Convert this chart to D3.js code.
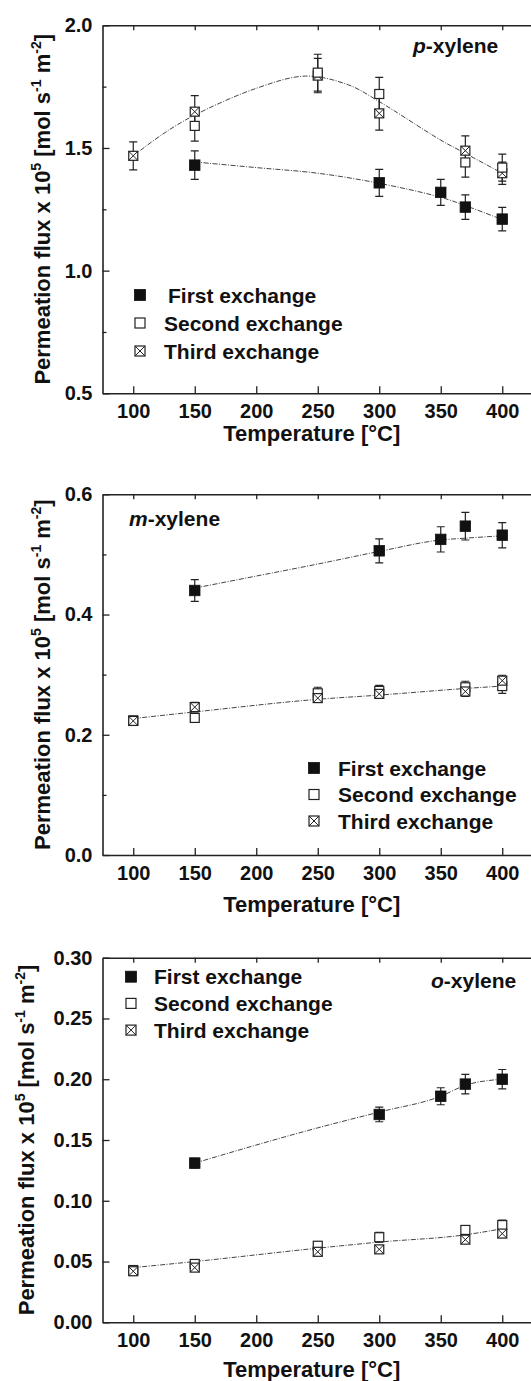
<!DOCTYPE html>
<html>
<head>
<meta charset="utf-8">
<script src="https://cdn.jsdelivr.net/npm/d3@7"></script>
<style>
  body { margin: 0; background: #fff; }
  svg { display: block; }
  text { font-family: "Liberation Sans", Arial, sans-serif; font-weight: bold; fill: #111; }
</style>
</head>
<body>
<div id="chart"></div>
<script>
// x axis (temperature, °C)
const xTicks = [100, 150, 200, 250, 300, 350, 400];
const legendNames = ["First exchange", "Second exchange", "Third exchange"];

// p-xylene  [T, flux, error]
const pFirst  = [[150, 1.430, 0.058], [300, 1.358, 0.055], [350, 1.319, 0.053], [370, 1.259, 0.050], [400, 1.210, 0.048]];
const pSecond = [[150, 1.590, 0.062], [250, 1.807, 0.075], [300, 1.720, 0.068], [370, 1.441, 0.060], [400, 1.420, 0.055]];
const pThird  = [[100, 1.468, 0.057], [150, 1.648, 0.065], [250, 1.795, 0.070], [300, 1.641, 0.068], [370, 1.489, 0.060], [400, 1.397, 0.045]];
const pFitFirst = [[150, 1.443], [200, 1.420], [250, 1.397], [300, 1.356], [350, 1.299], [370, 1.265], [400, 1.208]];
const pFitUpper = [[100, 1.468], [125, 1.560], [150, 1.634], [200, 1.743], [240, 1.793], [275, 1.757], [300, 1.689], [350, 1.532], [370, 1.478], [400, 1.397]];

// m-xylene
const mFirst  = [[150, 0.440, 0.018], [300, 0.506, 0.020], [350, 0.525, 0.021], [370, 0.547, 0.023], [400, 0.532, 0.021]];
const mSecond = [[100, 0.224, 0.005], [150, 0.228, 0.007], [250, 0.269, 0.010], [300, 0.273, 0.009], [370, 0.279, 0.010], [400, 0.281, 0.012]];
const mThird  = [[100, 0.223, 0.006], [150, 0.246, 0.008], [250, 0.261, 0.006], [300, 0.268, 0.006], [370, 0.272, 0.008], [400, 0.290, 0.009]];
const mFitFirst = [[150, 0.444], [200, 0.464], [250, 0.484], [300, 0.505], [350, 0.524], [370, 0.527], [400, 0.531]];
const mFitLower = [[100, 0.227], [150, 0.238], [250, 0.259], [300, 0.266], [370, 0.277], [400, 0.281]];

// o-xylene
const oFirst  = [[150, 0.131, 0.004], [300, 0.171, 0.006], [350, 0.186, 0.007], [370, 0.196, 0.008], [400, 0.200, 0.008]];
const oSecond = [[100, 0.043, 0.002], [150, 0.048, 0.003], [250, 0.063, 0.003], [300, 0.070, 0.004], [370, 0.076, 0.003], [400, 0.080, 0.004]];
const oThird  = [[100, 0.042, 0.002], [150, 0.045, 0.003], [250, 0.058, 0.003], [300, 0.060, 0.003], [370, 0.068, 0.003], [400, 0.073, 0.003]];
const oFitFirst = [[150, 0.131], [250, 0.160], [300, 0.173], [350, 0.186], [370, 0.195], [400, 0.200]];
const oFitLower = [[100, 0.045], [150, 0.050], [250, 0.061], [300, 0.066], [370, 0.072], [400, 0.077]];

const W = 531, H = 1381;
const svg = d3.select("#chart").append("svg").attr("width", W).attr("height", H);

const x = d3.scaleLinear().domain([75, 425]).range([102.5, 533]);

const panels = [
  { name: "p", top: 25.3, bottom: 393.3, domain: [0.5, 2.0], ticks: [0.5, 1.0, 1.5, 2.0], minor: [0.75, 1.25, 1.75], fmt: ".1f",
    first: pFirst, second: pSecond, third: pThird, thirdOnTop: false, fits: [pFitFirst, pFitUpper], curve: d3.curveCatmullRom.alpha(0.5),
    nameX: 413, nameY: 53, legX: 140, legY: 295, legDy: 28, legTx: [168, 164, 164], yTitleX: 50, xTitleY: 441 },
  { name: "m", top: 494.3, bottom: 855, domain: [0, 0.6], ticks: [0, 0.2, 0.4, 0.6], minor: [0.1, 0.3, 0.5], fmt: ".1f",
    first: mFirst, second: mSecond, third: mThird, thirdOnTop: true, fits: [mFitFirst, mFitLower], curve: d3.curveMonotoneX,
    nameX: 129, nameY: 526, legX: 314, legY: 768, legDy: 26.5, legTx: [338, 338, 338], yTitleX: 50, xTitleY: 911.5 },
  { name: "o", top: 957.7, bottom: 1322.3, domain: [0, 0.30], ticks: [0, 0.05, 0.10, 0.15, 0.20, 0.25, 0.30], minor: [], fmt: ".2f",
    first: oFirst, second: oSecond, third: oThird, thirdOnTop: true, fits: [oFitFirst, oFitLower], curve: d3.curveMonotoneX,
    nameX: 431, nameY: 988, legX: 131, legY: 976.7, legDy: 26.7, legTx: [154, 154, 154], yTitleX: 34, xTitleY: 1377 }
];

function marker(g, kind, cx, cy, s) {
  if (kind === 0) {
    g.append("rect").attr("x", cx - s / 2).attr("y", cy - s / 2).attr("width", s).attr("height", s)
      .attr("fill", "#111").attr("stroke", "#111").attr("stroke-width", 0.8);
    return;
  }
  const h = (s - 1) / 2;
  g.append("rect").attr("x", cx - h).attr("y", cy - h).attr("width", 2 * h).attr("height", 2 * h)
    .attr("fill", "#fff").attr("stroke", "#222").attr("stroke-width", 1.2);
  if (kind === 2) {
    g.append("path").attr("d", `M${cx - h},${cy - h}L${cx + h},${cy + h}M${cx - h},${cy + h}L${cx + h},${cy - h}`)
      .attr("stroke", "#222").attr("stroke-width", 1).attr("fill", "none");
  }
}

panels.forEach(p => {
  const y = d3.scaleLinear().domain(p.domain).range([p.bottom, p.top]);
  const g = svg.append("g");

  // axes
  g.append("g").attr("transform", `translate(0,${p.bottom})`)
    .call(d3.axisBottom(x).tickValues(xTicks).tickSizeInner(-7).tickSizeOuter(0).tickPadding(11).tickFormat(d3.format("d")))
    .call(a => a.selectAll("text").attr("font-size", 20).attr("fill", "#111"));
  g.append("g").attr("transform", `translate(0,${p.top})`)
    .call(d3.axisTop(x).tickValues(xTicks).tickSizeInner(-5).tickSizeOuter(0).tickFormat(""));
  g.append("g").attr("transform", `translate(${x.range()[0]},0)`)
    .call(d3.axisLeft(y).tickValues(p.ticks).tickSizeInner(-7).tickSizeOuter(0).tickPadding(10).tickFormat(d3.format(p.fmt)))
    .call(a => a.selectAll("text").attr("font-size", 20).attr("fill", "#111"));
  if (p.minor.length) {
    g.append("g").attr("transform", `translate(${x.range()[0]},0)`)
      .call(d3.axisLeft(y).tickValues(p.minor).tickSizeInner(-4).tickSizeOuter(0).tickFormat(""))
      .call(a => a.select(".domain").remove());
  }
  g.selectAll(".domain").attr("stroke", "#222").attr("stroke-width", 1.6);
  g.selectAll(".tick line").attr("stroke", "#222").attr("stroke-width", 1.3);

  // fitted curves
  const line = d3.line().x(d => x(d[0])).y(d => y(d[1])).curve(p.curve);
  p.fits.forEach(f => {
    g.append("path").attr("d", line(f)).attr("fill", "none").attr("stroke", "#444")
      .attr("stroke-width", 1).attr("stroke-dasharray", "5,1.5,1,1.5");
  });

  // error bars then markers
  const series = p.thirdOnTop
    ? [[p.first, 0], [p.second, 1], [p.third, 2]]
    : [[p.first, 0], [p.third, 2], [p.second, 1]];
  series.forEach(([data, kind]) => {
    data.forEach(d => {
      const cx = x(d[0]), y0 = y(d[1] - d[2]), y1 = y(d[1] + d[2]);
      g.append("path").attr("d", `M${cx},${y0}V${y1}M${cx - 4},${y0}H${cx + 4}M${cx - 4},${y1}H${cx + 4}`)
        .attr("stroke", "#222").attr("stroke-width", 1.2).attr("fill", "none");
    });
  });
  series.forEach(([data, kind]) => {
    data.forEach(d => marker(g, kind, x(d[0]), y(d[1]), kind === 0 ? 10.5 : 10));
  });

  // compound label
  const nm = g.append("text").attr("x", p.nameX).attr("y", p.nameY).attr("font-size", 21);
  nm.append("tspan").attr("font-style", "italic").text(p.name);
  nm.append("tspan").text("-xylene");

  // legend
  legendNames.forEach((n, i) => {
    const ly = p.legY + i * p.legDy;
    marker(g, i, p.legX, ly, 11);
    g.append("text").attr("x", p.legTx[i]).attr("y", ly).attr("dy", "0.36em").attr("font-size", 21).text(n);
  });

  // axis titles
  g.append("text").attr("x", (x.range()[0] + 521) / 2).attr("y", p.xTitleY)
    .attr("text-anchor", "middle").attr("font-size", 22).text("Temperature [°C]");

  const cy = (p.top + p.bottom) / 2;
  const yt = g.append("text").attr("transform", `translate(${p.yTitleX},${cy}) rotate(-90)`)
    .attr("text-anchor", "middle").attr("font-size", 22);
  yt.append("tspan").text("Permeation flux x 10");
  yt.append("tspan").attr("font-size", 14).attr("dy", -9).text("5");
  yt.append("tspan").attr("dy", 9).text(" [mol s");
  yt.append("tspan").attr("font-size", 14).attr("dy", -9).text("-1");
  yt.append("tspan").attr("dy", 9).text(" m");
  yt.append("tspan").attr("font-size", 14).attr("dy", -9).text("-2");
  yt.append("tspan").attr("dy", 9).text("]");
});
</script>
</body>
</html>
